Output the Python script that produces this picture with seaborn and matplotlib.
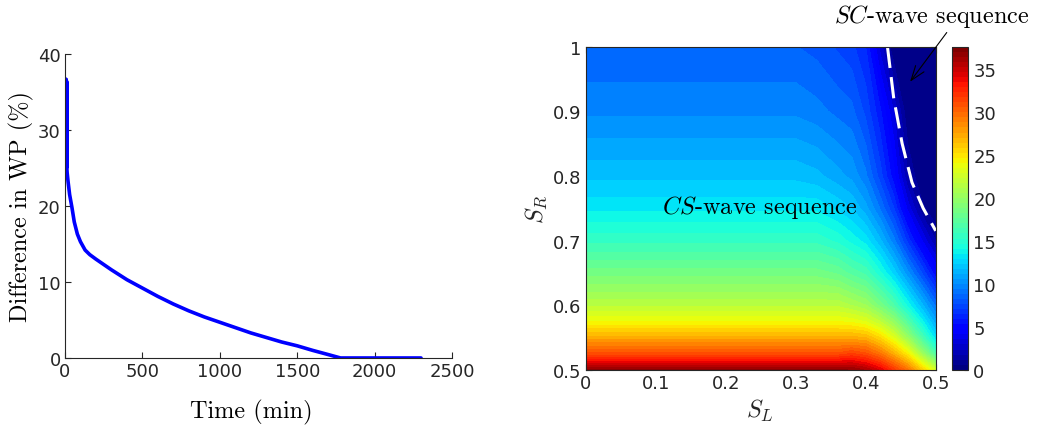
import numpy as np
import matplotlib
matplotlib.use("Agg")
import matplotlib.pyplot as plt
import seaborn as sns
from matplotlib.colors import Normalize
from matplotlib.cm import ScalarMappable

# left panel: difference in WP over time
time_min = [5, 6.5, 8, 9.5, 11, 12.5, 14, 20, 30, 45, 60, 80, 100, 130, 160, 200,
            300, 400, 500, 600, 700, 800, 900, 1000, 1100, 1200, 1300, 1400,
            1500, 1600, 1700, 1780, 1900, 2000, 2100, 2200, 2300]
wp_diff = [36.7, 25.0, 36.6, 25.0, 36.4, 24.9, 24.4, 23.2, 21.5, 19.8, 17.9, 16.3,
           15.3, 14.2, 13.6, 13.0, 11.6, 10.3, 9.2, 8.1, 7.1, 6.2, 5.4, 4.7, 4.0,
           3.3, 2.7, 2.1, 1.6, 1.0, 0.45, 0.0, 0.0, 0.0, 0.0, 0.0, 0.0]

# right panel: difference over (S_L, S_R)
sl_nodes = [0.0, 0.30, 0.33, 0.36, 0.38, 0.40, 0.42, 0.44, 0.46, 0.48, 0.50]
sr_nodes = [0.50, 0.525, 0.55, 0.575, 0.60, 0.65, 0.70, 0.75, 0.80, 0.90, 1.00]
diff_sr050 = [37.0, 37.0, 37.0, 37.0, 36.8, 36.0, 34.5, 32.0, 29.5, 26.0, 22.5]
diff_sr0525 = [31.0, 31.0, 31.0, 31.0, 31.6, 31.0, 29.5, 27.2, 24.5, 20.5, 16.5]
diff_sr055 = [27.3, 27.3, 27.3, 27.3, 27.3, 27.0, 25.5, 23.2, 20.0, 16.5, 13.0]
diff_sr0575 = [24.0, 24.0, 24.0, 24.0, 23.8, 23.2, 21.8, 19.8, 16.8, 13.8, 10.8]
diff_sr060 = [21.6, 21.6, 21.6, 21.6, 21.0, 20.3, 18.6, 16.6, 14.0, 11.5, 8.8]
diff_sr065 = [18.4, 18.4, 18.4, 17.9, 17.0, 16.3, 14.5, 12.5, 10.0, 7.5, 4.7]
diff_sr070 = [15.5, 15.5, 15.5, 14.8, 14.0, 13.2, 11.5, 9.3, 6.5, 3.8, 1.5]
diff_sr075 = [13.3, 13.3, 13.3, 12.6, 12.0, 10.8, 9.0, 6.8, 3.5, 1.0, 0.0]
diff_sr080 = [11.8, 11.8, 11.5, 10.8, 10.3, 9.2, 7.2, 4.8, 1.5, 0.0, 0.0]
diff_sr090 = [9.6, 9.6, 9.3, 8.8, 8.5, 7.3, 5.5, 3.0, 0.0, 0.0, 0.0]
diff_sr100 = [8.3, 8.3, 8.0, 7.4, 7.0, 6.0, 2.8, 0.0, 0.0, 0.0, 0.0]
vmax = 37.6

# SC / CS boundary (dashed)
bound_sl = [0.431, 0.440, 0.452, 0.466, 0.482, 0.500]
bound_sr = [1.000, 0.920, 0.850, 0.790, 0.750, 0.715]

sl_ticks = [0, 0.05, 0.1, 0.15, 0.2, 0.25, 0.3, 0.35, 0.4, 0.45, 0.5]
sl_labels = ["0", "", "0.1", "", "0.2", "", "0.3", "", "0.4", "", "0.5"]
sr_ticks = [0.5, 0.55, 0.6, 0.65, 0.7, 0.75, 0.8, 0.85, 0.9, 0.95, 1.0]
sr_labels = ["0.5", "", "0.6", "", "0.7", "", "0.8", "", "0.9", "", "1"]
cb_ticks = [0, 5, 10, 15, 20, 25, 30, 35]

sns.set_theme(style="ticks")
plt.rcParams["font.family"] = ["DejaVu Sans"]
plt.rcParams["mathtext.fontset"] = "cm"
plt.rcParams["xtick.direction"] = "in"
plt.rcParams["ytick.direction"] = "in"

dark = "#262626"
lab_kw = dict(family="cmr10", fontsize=17.5, color="black")

fig = plt.figure(figsize=(10.48, 4.27), dpi=100)

# ---- left
ax1 = fig.add_axes([0.062, 0.1593, 0.3693, 0.712])
sns.lineplot(x=time_min, y=wp_diff, color="blue", lw=2.6, estimator=None, ax=ax1)
ax1.set_xlim(0, 2500)
ax1.set_ylim(0, 40)
ax1.set_xticks([0, 500, 1000, 1500, 2000, 2500])
ax1.set_yticks([0, 10, 20, 30, 40])
sns.despine(ax=ax1)
for s in ["left", "bottom"]:
    ax1.spines[s].set_color(dark)
    ax1.spines[s].set_linewidth(0.8)
ax1.tick_params(labelsize=13, colors=dark, length=4, width=0.8, pad=3)
ax1.set_xlabel("Time (min)", **lab_kw)
ax1.set_ylabel("Difference in WP (%)", **lab_kw)
ax1.xaxis.set_label_coords(0.482, -0.135)
ax1.yaxis.set_label_coords(-0.08, 0.50)

# ---- right
ax2 = fig.add_axes([0.5589, 0.1318, 0.334, 0.7564])
Z = np.array([diff_sr050, diff_sr0525, diff_sr055, diff_sr0575, diff_sr060,
              diff_sr065, diff_sr070, diff_sr075, diff_sr080, diff_sr090, diff_sr100])
ax2.contourf(sl_nodes, sr_nodes, Z, levels=np.linspace(0, vmax, 51),
             cmap="jet", vmin=0, vmax=vmax)
ax2.plot(bound_sl, bound_sr, color="white", lw=2.2, dashes=(7, 3))
ax2.set_xlim(0, 0.5)
ax2.set_ylim(0.5, 1)
ax2.set_xticks(sl_ticks, sl_labels)
ax2.set_yticks(sr_ticks, sr_labels)
ax2.tick_params(labelsize=13, colors=dark, length=4, width=0.8, pad=3,
                top=True, right=True)
for s in ax2.spines.values():
    s.set_color(dark)
    s.set_linewidth(0.8)
ax2.set_xlabel(r"$S_L$", fontsize=17.5)
ax2.set_ylabel(r"$S_R$", fontsize=17.5)
ax2.xaxis.set_label_coords(0.498, -0.085)
ax2.yaxis.set_label_coords(-0.105, 0.50)

ax2.text(0.249, 0.753, r"$CS$-wave sequence", ha="center", va="center", **lab_kw)
ax2.annotate("", xy=(0.4633, 0.9458), xytext=(0.5157, 1.022),
             arrowprops=dict(arrowstyle="->, head_length=0.7, head_width=0.25",
                             color="black", lw=0.8, mutation_scale=15,
                             shrinkA=0, shrinkB=0),
             annotation_clip=False)
fig.text(0.889, 0.962, r"$SC$-wave sequence", ha="center", va="center", **lab_kw)

# colorbar
cax = fig.add_axes([0.9081, 0.1318, 0.0153, 0.7564])
sm = ScalarMappable(norm=Normalize(0, vmax), cmap=plt.get_cmap("jet", 64))
cb = fig.colorbar(sm, cax=cax)
cb.set_ticks(cb_ticks)
cb.outline.set_edgecolor(dark)
cb.outline.set_linewidth(0.8)
cax.tick_params(labelsize=13, colors=dark, length=3, width=0.8, direction="in", pad=4)

fig.savefig("out.png", dpi=100)
